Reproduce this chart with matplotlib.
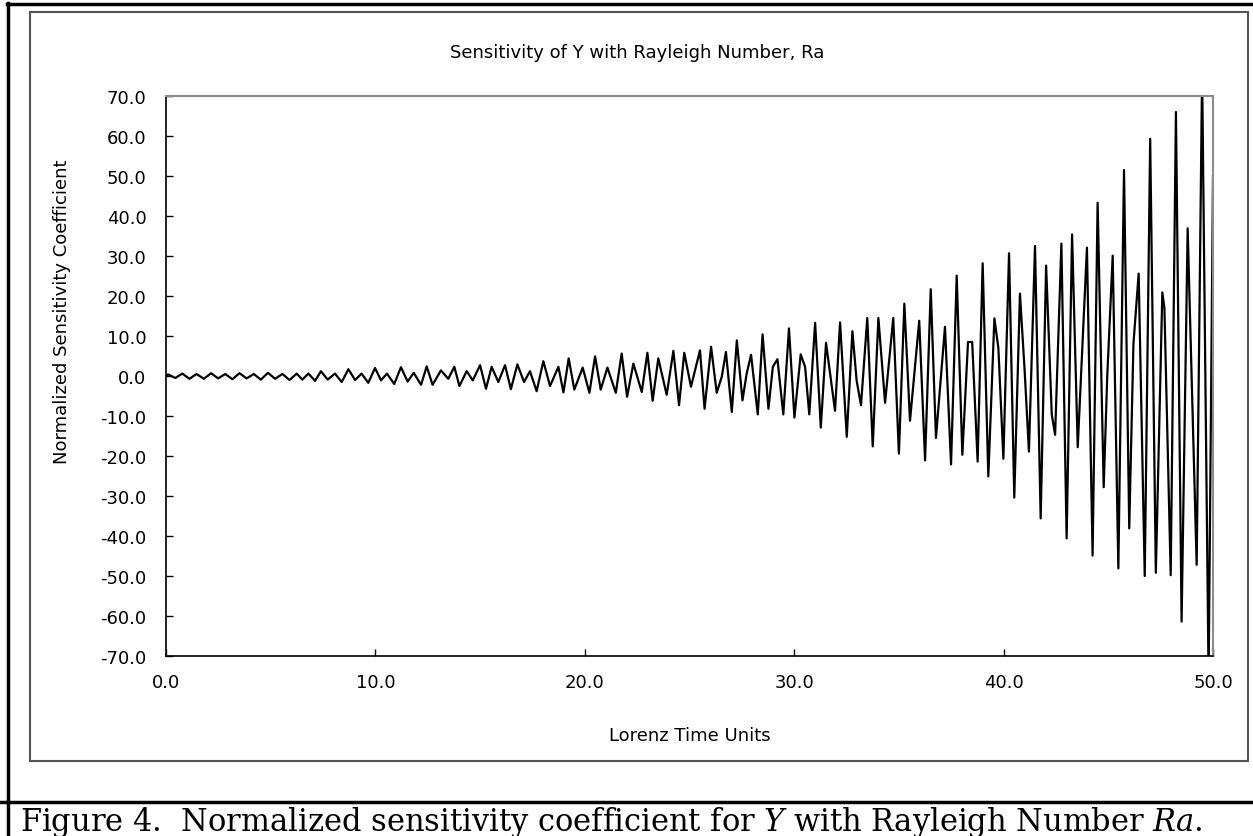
import matplotlib.pyplot as plt
from matplotlib.lines import Line2D
from matplotlib.patches import Rectangle

# Extrema of the curve (Lorenz time units, sensitivity)
t_ext = [0.00, 0.10, 0.44, 0.78, 1.12, 1.46, 1.81, 2.15, 2.49, 2.83, 3.17, 3.51, 3.85, 4.19, 4.53, 4.87, 5.21, 5.56, 5.90,
         6.24, 6.51, 6.80, 7.12, 7.40, 7.72, 8.07, 8.39, 8.71, 9.03, 9.34, 9.66, 9.98, 10.27, 10.55, 10.90, 11.22, 11.54, 11.83, 12.18, 12.45,
         12.73, 13.13, 13.48, 13.77, 14.01, 14.36, 14.65, 15.00, 15.28, 15.55, 15.87, 16.19, 16.47, 16.78, 17.10, 17.38, 17.70, 18.02, 18.34, 18.74, 18.98,
         19.23, 19.50, 19.90, 20.22, 20.49, 20.76, 21.08, 21.48, 21.76, 22.02, 22.32, 22.72, 22.99, 23.24, 23.51, 23.91, 24.23, 24.50, 24.75, 25.07, 25.50, 25.72,
         26.03, 26.30, 26.54, 26.74, 27.02, 27.26, 27.53, 27.73, 27.94, 28.26, 28.49, 28.77, 28.98, 29.20, 29.48, 29.75, 30.01, 30.31, 30.52, 30.72, 31.00, 31.27, 31.52, 31.95,
         32.19, 32.51, 32.78, 32.98, 33.19, 33.49, 33.75, 34.02, 34.34, 34.73, 35.00, 35.26, 35.53, 35.97, 36.25, 36.52, 36.77, 37.20, 37.49,
         37.76, 38.03, 38.30, 38.50, 38.76, 39.00, 39.27, 39.56, 39.75, 39.99, 40.26, 40.51, 40.78, 41.00, 41.21, 41.50, 41.77, 42.03, 42.30, 42.46, 42.76, 43.01, 43.27, 43.54,
         43.98, 44.25, 44.49, 44.78, 44.95, 45.21, 45.48, 45.75, 46.00, 46.20, 46.45, 46.74, 47.00, 47.27, 47.58, 47.68, 47.98, 48.23, 48.50, 48.79, 49.22, 49.48, 49.79, 50.00]
sens_ext = [0.0, 0.4, -0.5, 0.6, -0.7, 0.5, -0.7, 0.7, -0.6, 0.5, -0.8, 0.7, -0.6, 0.5, -0.9, 0.8, -0.7, 0.5, -1.0,
            0.6, -0.9, 0.6, -1.2, 1.2, -0.9, 0.6, -1.5, 1.7, -1.0, 0.6, -1.7, 2.0, -1.1, 0.6, -2.0, 2.2, -1.4, 0.8, -2.2, 2.4,
            -2.2, 1.4, -0.7, 2.3, -2.5, 1.2, -1.1, 2.7, -3.2, 2.3, -1.5, 2.7, -3.3, 2.9, -1.5, 1.2, -3.8, 3.7, -2.5, 2.3, -4.1,
            4.4, -3.4, 2.1, -4.2, 4.9, -3.4, 2.1, -4.2, 5.6, -5.2, 3.1, -4.0, 5.8, -6.2, 4.4, -4.7, 6.3, -7.3, 5.8, -2.7, 6.4, -8.2,
            7.3, -4.2, -0.2, 6.0, -9.0, 8.9, -6.1, 0.6, 5.3, -9.6, 10.4, -8.2, 2.3, 4.2, -9.6, 11.9, -10.4, 5.4, 2.3, -9.6, 13.3, -12.9, 8.3, -8.7,
            13.4, -15.2, 11.2, -1.1, -7.3, 14.5, -17.6, 14.5, -6.7, 14.5, -19.4, 18.1, -11.2, 13.8, -21.1, 21.7, -15.5, 12.3, -22.1,
            25.1, -19.7, 8.5, 8.5, -21.4, 28.2, -25.1, 14.4, 7.0, -20.7, 30.7, -30.4, 20.6, 1.8, -18.9, 32.5, -35.6, 27.6, -9.6, -14.7, 33.1, -40.6, 35.4, -17.8,
            32.1, -44.9, 43.3, -27.8, 0.0, 30.1, -48.1, 51.5, -38.1, 8.0, 25.6, -50.0, 59.3, -49.2, 20.9, 17.0, -49.8, 66.0, -61.4, 36.9, -47.2, 76.0, -76.0, 50.0]

y_ticks = [-70, -60, -50, -40, -30, -20, -10, 0, 10, 20, 30, 40, 50, 60, 70]
x_ticks = [0, 10, 20, 30, 40, 50]

W, H = 1253, 837
fig = plt.figure(figsize=(W / 100, H / 100), dpi=100)

def fx(px):
    return px / W

def fy(py):
    return 1 - py / H

# plot area
ax = fig.add_axes([fx(166), fy(657), (1213 - 166) / W, (657 - 97) / H])
ax.plot(t_ext, sens_ext, color='black', lw=1.6, solid_joinstyle='round')
ax.set_xlim(0, 50)
ax.set_ylim(-70, 70)
ax.set_xticks(x_ticks)
ax.set_xticklabels([f'{v:.1f}' for v in x_ticks])
ax.set_yticks(y_ticks)
ax.set_yticklabels([f'{v:.1f}' for v in y_ticks])
ax.tick_params(direction='in', length=5, width=1, labelsize=13, pad=12)
ax.tick_params(axis='y', pad=14)
for side in ['top', 'right']:
    ax.spines[side].set_color('#8c8c8c')
    ax.spines[side].set_linewidth(1.5)
for side in ['left', 'bottom']:
    ax.spines[side].set_color('black')
    ax.spines[side].set_linewidth(1.2)

fig.text(fx(637), fy(53), 'Sensitivity of Y with Rayleigh Number, Ra',
         ha='center', va='center', fontsize=13)
fig.text(fx(690), fy(736), 'Lorenz Time Units', ha='center', va='center', fontsize=13)
fig.text(fx(62), fy(312), 'Normalized Sensitivity Coefficient', ha='center', va='center',
         rotation=90, fontsize=13)

# chart frame and outer box
fig.patches.append(Rectangle((fx(30), fy(762)), (1248 - 30) / W, (762 - 13) / H,
                             transform=fig.transFigure, fill=False, edgecolor='#555555', lw=1.5))
fig.lines.append(Line2D([fx(8), fx(8)], [fy(4), 0], transform=fig.transFigure, color='black', lw=2.5))
fig.lines.append(Line2D([fx(7), 1], [fy(5), fy(5)], transform=fig.transFigure, color='black', lw=2.5))
fig.lines.append(Line2D([0, 1], [fy(803), fy(803)], transform=fig.transFigure, color='black', lw=2.5))

# caption (bottom of the descenders runs off the page, as in the original)
plt.rcParams['mathtext.fontset'] = 'custom'
plt.rcParams['mathtext.rm'] = 'DejaVu Serif'
plt.rcParams['mathtext.it'] = 'DejaVu Serif:italic'
fig.text(fx(20), fy(831),
         r'Figure 4.  Normalized sensitivity coefficient for $\mathit{Y}$ with Rayleigh Number $\mathit{Ra}$.',
         ha='left', va='baseline', fontsize=22, family='DejaVu Serif')

plt.savefig('out.png', dpi=100)
